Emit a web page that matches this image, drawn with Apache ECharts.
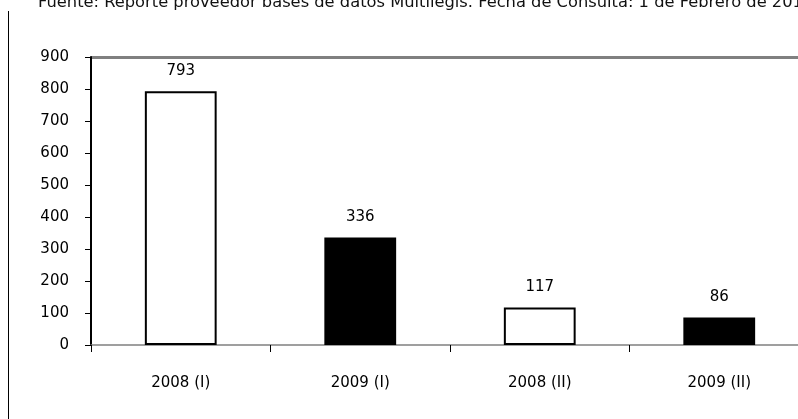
<!DOCTYPE html>
<html>
<head>
<meta charset="utf-8">
<script src="https://cdn.jsdelivr.net/npm/echarts@6/dist/echarts.min.js"></script>
<style>
  html, body { margin: 0; padding: 0; background: #fff; }
  #chart { width: 798px; height: 419px; }
</style>
</head>
<body>
<div id="chart"></div>
<script>
const categories = ['2008 (I)', '2009 (I)', '2008 (II)', '2009 (II)']
const values = [793, 336, 117, 86]
const yTicks = { min: 0, max: 900, interval: 100 }

const fills = ['#ffffff', '#000000']
const labelFont = 'DejaVu Sans'

// only the top split line (900) is visible, drawn in gray
const splitColors = []
for (let i = 0; i < 9; i++) splitColors.push('rgba(0,0,0,0)')
splitColors.push('#808080')

const chart = echarts.init(document.getElementById('chart'))

const option = {
  backgroundColor: '#ffffff',
  animation: false,
  title: {
    text: 'Fuente: Reporte proveedor bases de datos Multilegis. Fecha de Consulta: 1 de Febrero de 2010',
    left: 38,
    top: -5,
    padding: 0,
    textStyle: {
      fontFamily: 'DejaVu Sans',
      fontSize: 16.3,
      fontWeight: 'normal',
      color: '#111'
    }
  },
  graphic: [
    {
      type: 'line',
      shape: { x1: 8.5, y1: 11, x2: 8.5, y2: 419 },
      style: { stroke: '#000', lineWidth: 1 }
    }
  ],
  grid: {
    left: 91,
    top: 57,
    bottom: 74,
    width: 718,
    containLabel: false,
    outerBoundsMode: 'none'
  },
  xAxis: {
    type: 'category',
    data: categories,
    axisLine: { lineStyle: { color: '#808080', width: 1.5 } },
    axisTick: { show: true, length: 7, lineStyle: { color: '#000', width: 1 } },
    axisLabel: {
      margin: 31,
      fontFamily: labelFont,
      fontSize: 15,
      color: '#000'
    }
  },
  yAxis: {
    type: 'value',
    min: yTicks.min,
    max: yTicks.max,
    interval: yTicks.interval,
    axisLine: { show: true, lineStyle: { color: '#000', width: 2 } },
    axisTick: { show: true, length: 6, lineStyle: { color: '#000', width: 1 } },
    axisLabel: {
      margin: 22,
      fontFamily: labelFont,
      fontSize: 15,
      color: '#000'
    },
    splitLine: { show: true, lineStyle: { color: splitColors, width: 3 } }
  },
  series: [
    {
      type: 'bar',
      data: values,
      barWidth: '40%',
      itemStyle: {
        color: function (params) {
          return fills[params.dataIndex % fills.length]
        },
        borderColor: '#000',
        borderWidth: 2
      },
      label: {
        show: true,
        position: 'top',
        distance: 13,
        fontFamily: labelFont,
        fontSize: 15,
        color: '#000'
      }
    }
  ]
}

chart.setOption(option)
</script>
</body>
</html>
